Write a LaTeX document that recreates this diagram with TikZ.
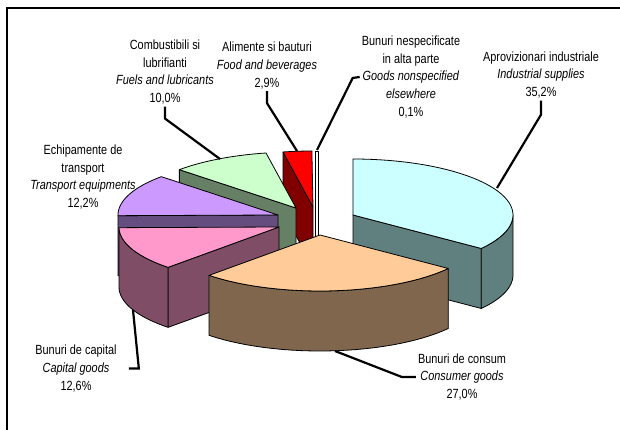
\documentclass[tikz,border=0pt]{standalone}
\usepackage{fontspec}
\setmainfont{Liberation Sans}[FakeStretch=0.82]
% slice colours (top / side)
\definecolor{indtop}{RGB}{204,255,255}\definecolor{indwall}{RGB}{96,128,128}
\definecolor{contop}{RGB}{255,204,153}\definecolor{conwall}{RGB}{128,102,77}
\definecolor{captop}{RGB}{255,153,204}\definecolor{capwall}{RGB}{128,77,102}
\definecolor{tratop}{RGB}{204,153,255}\definecolor{trawall}{RGB}{102,77,128}
\definecolor{fueltop}{RGB}{204,255,204}\definecolor{fuelwall}{RGB}{102,128,102}
\definecolor{foodtop}{RGB}{255,0,0}\definecolor{foodwall}{RGB}{128,0,0}
% top face, radial side and outer side of a slice: cx, cy, angles, colour
\newcommand{\pietop}[5]{\filldraw[face,fill=#5] (#1,#2) -- plot[domain=#3:#4,samples=40] ({#1+160*sin(\x)},{#2-56*cos(\x)}) -- cycle;}
\newcommand{\piewall}[4]{\filldraw[face,fill=#4] (#1,#2) -- ({#1+160*sin(#3)},{#2-56*cos(#3)}) -- ++(0,60) -- (#1,{#2+60}) -- cycle;}
\newcommand{\pieside}[5]{\filldraw[face,fill=#5] plot[domain=#3:#4,samples=30] ({#1+160*sin(\x)},{#2-56*cos(\x)}) -- plot[domain=#4:#3,samples=30] ({#1+160*sin(\x)},{#2+60-56*cos(\x)}) -- cycle;}
\begin{document}
\begin{tikzpicture}[x=1pt,y=-1pt,
  lbl/.style={align=center,font=\fontsize{13.3}{17.8}\selectfont,inner sep=2pt},
  leader/.style={line width=2.2pt},
  face/.style={draw=black,line width=0.8pt,line join=round}]
\fill[white] (0,0) rectangle (620,430);
\useasboundingbox (0,0) rectangle (620,430);
% frame
\draw[line width=2pt] (6.5,432) -- (6.5,8.5) -- (622,8.5);
% food
\piewall{313}{207}{349.2}{foodwall}
\pietop{313}{207}{349.2}{359.6}{foodtop}
% goods nonspecified
\filldraw[face,fill=white] (315.5,151) rectangle (318.5,267);
% fuels
\piewall{296}{208}{313.2}{fuelwall}
\pietop{296}{208}{313.2}{349.2}{fueltop}
% transport
\piewall{278}{215}{269.3}{trawall}
\pietop{278}{215}{269.3}{313.2}{tratop}
% industrial
\piewall{353}{215}{126.7}{indwall}
\pieside{353}{215}{90}{126.7}{indwall}
\pietop{353}{215}{0}{126.7}{indtop}
% capital
\piewall{279}{227}{223.9}{capwall}
\pieside{279}{227}{223.9}{269.3}{capwall}
\pietop{279}{227}{223.9}{269.3}{captop}
% consumer
\pieside{320}{235}{126.7}{223.9}{conwall}
\pietop{320}{235}{126.7}{223.9}{contop}
% labels
\node[lbl] (fuell) at (165,72) {Combustibili si\\lubrifianti\\\textit{Fuels and lubricants}\\10,0\%};
\node[lbl] (foodl) at (267,65.5) {Alimente si bauturi\\\textit{Food and beverages}\\2,9\%};
\node[lbl] (nonl) at (411,77) {Bunuri nespecificate\\in alta parte\\\textit{Goods nonspecified}\\\textit{elsewhere}\\0,1\%};
\node[lbl] (indl) at (541,75) {Aprovizionari industriale\\\textit{Industrial supplies}\\35,2\%};
\node[lbl] (tral) at (83,177) {Echipamente de\\transport\\\textit{Transport equipments}\\12,2\%};
\node[lbl] (capl) at (76,368.5) {Bunuri de capital\\\textit{Capital goods}\\12,6\%};
\node[lbl] (conl) at (462,377) {Bunuri de consum\\\textit{Consumer goods}\\27,0\%};
% leader lines
\coordinate (fuelp) at (220,159);
\coordinate (foodp) at (297,151);
\coordinate (nonp) at (317,150);
\coordinate (indp) at (497,188);
\coordinate (capp) at (133,310);
\coordinate (conp) at (335,351);
\draw[leader] (fuell.south) -- ++(0,12) -- (fuelp);
\draw[leader] (foodl.south) -- ++(0,12) -- (foodp);
\draw[leader] (nonl.west) -- ++(-7,1) -- (nonp);
\draw[leader] (indl.south) -- ++(0,14) -- (indp);
\draw[leader] ([xshift=10pt]capl.east) -- ++(10,0) -- (capp);
\draw[leader] (conl.west) -- ++(-14,0) -- (conp);
\end{tikzpicture}
\end{document}
